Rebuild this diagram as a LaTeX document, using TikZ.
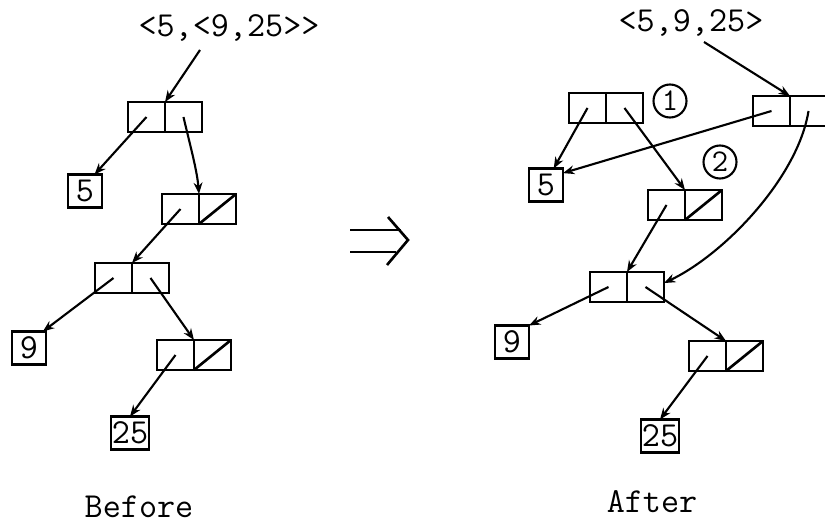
\documentclass[tikz,border=0pt]{standalone}
\usepackage{tikz}
\usetikzlibrary{arrows.meta,positioning}
\tikzset{half/.style={draw, line width=1.5pt, minimum width=0.74cm, minimum height=0.6cm, inner sep=0pt, outer sep=0pt},
  atom/.style={draw, line width=1.5pt, minimum width=0.68cm, minimum height=0.66cm, inner sep=0.5pt, outer sep=0pt, font=\ttfamily\fontsize{20}{24}\selectfont},
  lbl/.style={font=\ttfamily\fontsize{20}{24}\selectfont},
  numcirc/.style={draw, circle, line width=1.2pt, minimum size=0.66cm, inner sep=0pt, font=\ttfamily\fontsize{18}{20}\selectfont},
  ptr/.style={->, line width=1.2pt}}

\begin{document}
\begin{tikzpicture}[x=0.02cm, y=-0.02cm, >={Stealth[length=6.5pt,width=5pt]}]
\useasboundingbox (0,0) rectangle (825,527);

% before
\node[lbl, anchor=base] (bexpr) at (229,37) {<5,<9,25>>};
\coordinate (bfrom) at (200,50);

\node[half, anchor=west] (bcar1) at (128,117) {};
\node[half, right=0pt of bcar1] (bcdr1) {};
\node[half, anchor=west] (bcar2) at (162,209) {};
\node[half, right=0pt of bcar2] (bcdr2) {};
\node[half, anchor=west] (bcar3) at (95,278) {};
\node[half, right=0pt of bcar3] (bcdr3) {};
\node[half, anchor=west] (bcar4) at (157,355) {};
\node[half, right=0pt of bcar4] (bcdr4) {};

\node[atom] (b5) at (85,191) {5};
\node[atom] (b9) at (29,348) {9};
\node[atom] (b25) at (130,433) {25};

% nil
\draw[line width=1.5pt] (bcdr2.south west) -- (bcdr2.north east);
\draw[line width=1.5pt] (bcdr4.south west) -- (bcdr4.north east);

\draw[ptr] (bfrom) -- (bcar1.north east);
\draw[ptr] (bcar1.center) -- (b5.60);
\draw[ptr] (bcdr1.center) .. controls (190,145) and (197,170) .. (bcar2.north east);
\draw[ptr] (bcar2.center) -- (bcar3.north east);
\draw[ptr] (bcar3.center) -- (b9.50);
\draw[ptr] (bcdr3.center) -- (bcar4.north east);
\draw[ptr] (bcar4.center) -- (b25.north);

\node[lbl, anchor=base] (btitle) at (139,517) {Before};

% big arrow
\draw[line width=1.5pt] (350,230) -- (401,230);
\draw[line width=1.5pt] (350,252) -- (396,252);
\draw[line width=1.5pt] (388,217) -- (408,240) -- (387,265);

% after
\node[lbl, anchor=base] (aexpr) at (691,32) {<5,9,25>};
\coordinate (afrom) at (704,42);

\node[half, anchor=west] (acar1) at (569,108) {};
\node[half, right=0pt of acar1] (acdr1) {};
\node[half, anchor=west] (acar2) at (648,205) {};
\node[half, right=0pt of acar2] (acdr2) {};
\node[half, anchor=west] (acar3) at (753,111) {};
\node[half, right=0pt of acar3] (acdr3) {};
\node[half, anchor=west] (acar4) at (590,287) {};
\node[half, right=0pt of acar4] (acdr4) {};
\node[half, anchor=west] (acar5) at (689,356) {};
\node[half, right=0pt of acar5] (acdr5) {};

\node[atom] (a5) at (546,185) {5};
\node[atom] (a9) at (512,342) {9};
\node[atom] (a25) at (660,436) {25};

\node[numcirc] (one) at (670,101) {1};
\node[numcirc] (two) at (720,162) {2};

% nil
\draw[line width=1.5pt] (acdr2.south west) -- (acdr2.north east);
\draw[line width=1.5pt] (acdr5.south west) -- (acdr5.north east);

\draw[ptr] (afrom) -- (acar3.north east);
\draw[ptr] (acar1.center) -- (a5.65);
\draw[ptr] (acdr1.center) -- (acar2.north east);
\draw[ptr] (acar3.center) -- (a5.35);
\draw[ptr] (acdr3.center) .. controls (798,177) and (725,254) .. (acdr4.12);
\draw[ptr] (acar2.center) -- (acar4.north east);
\draw[ptr] (acar4.center) -- (a9.north east);
\draw[ptr] (acdr4.center) -- (acar5.north east);
\draw[ptr] (acar5.center) -- (a25.north);

\node[lbl, anchor=base] (atitle) at (652,512) {After};

\end{tikzpicture}
\end{document}
